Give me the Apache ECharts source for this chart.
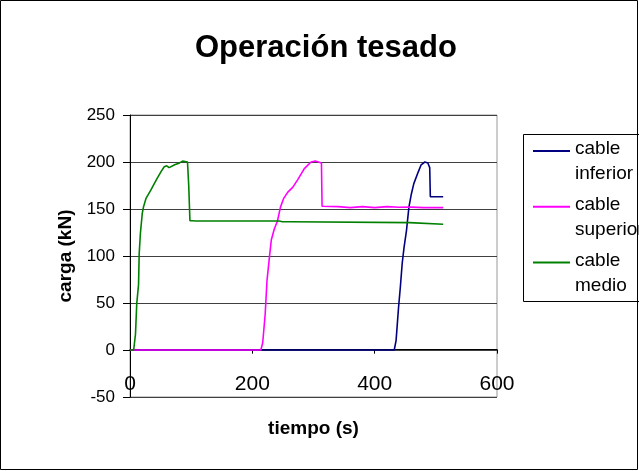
<!DOCTYPE html>
<html>
<head>
<meta charset="utf-8">
<script src="https://cdn.jsdelivr.net/npm/echarts@6/dist/echarts.min.js"></script>
<style>
html,body{margin:0;padding:0;background:#fff;}
#chart{width:639px;height:471px;}
</style>
</head>
<body>
<div id="chart"></div>
<script>
// ---- data ----
var seriesNames = ['cable\ninferior', 'cable\nsuperior', 'cable\nmedio'];
var xTicks = [0, 200, 400, 600];
var yTicks = [-50, 0, 50, 100, 150, 200, 250];

var tInferior = [0, 432, 435, 439, 442, 445, 448, 452, 456, 460, 464, 471, 476, 482, 487, 490, 491, 512];
var vInferior = [0, 0, 10, 45, 67, 92, 109, 127, 152, 166, 177, 189, 197, 200, 199, 194, 163, 163];

var tSuperior = [0, 214, 217, 221, 224, 228, 231, 236, 241, 246, 251, 258, 266, 274, 285, 296, 303, 313, 314, 340, 360, 380, 400, 420, 440, 460, 480, 512];
var vSuperior = [0, 0, 8, 38, 74, 99, 117, 129, 137, 152, 161, 168, 173, 181, 193, 200, 201, 199, 153, 152.5, 151.5, 152.5, 151.5, 152.5, 151.8, 152, 151.5, 151.5];

var tMedio = [0, 6, 9, 11, 14, 15, 17, 20, 22, 26, 34, 43, 51, 56, 60, 64, 73, 81, 86, 94, 95, 96, 98, 103, 105, 107, 244, 246, 249, 250, 262, 263, 457, 459, 512];
var vMedio = [0, 0, 17, 49, 70, 102, 124, 145, 152, 161, 170, 181, 190, 195, 196, 194, 197, 199, 201, 200, 200, 175, 137.5, 137.5, 139, 137.3, 137.3, 135.5, 136.5, 135.5, 136.5, 135.5, 135.5, 133.7, 133.7];

function pairs(t, v) { return t.map(function (x, i) { return [x, v[i]]; }); }

var FONT = "'Liberation Sans', Arial, sans-serif";
var colors = ['#000080', '#FF00FF', '#008000'];
var dataSets = [pairs(tInferior, vInferior), pairs(tSuperior, vSuperior), pairs(tMedio, vMedio)];

var chart = echarts.init(document.getElementById('chart'), null, {renderer: 'canvas'});
var option = {
  animation: false,
  backgroundColor: '#fff',
  textStyle: {fontFamily: FONT, color: '#000'},
  title: {
    text: 'Operación tesado',
    left: 195,
    top: 33,
    textStyle: {fontFamily: FONT, fontSize: 31, fontWeight: 'bold', color: '#000'},
    padding: 0
  },
  grid: {
    left: 130, right: 142, top: 115, bottom: 74,
    containLabel: false,
    outerBoundsMode: 'none',
    show: true, borderColor: '#999', borderWidth: 1, backgroundColor: 'transparent'
  },
  legend: {
    orient: 'vertical',
    left: 533,
    top: 121,
    padding: 0,
    itemWidth: 37,
    itemHeight: 2,
    itemGap: -6.7,
    icon: 'rect',
    data: seriesNames,
    formatter: function (name) {
      var parts = name.split('\n');
      return '{e| }\n{a|' + parts[0] + '}\n{a|' + parts[1] + '}';
    },
    textStyle: {
      fontFamily: FONT, fontSize: 19, color: '#000',
      rich: {
        e: {fontSize: 10, lineHeight: 21},
        a: {fontFamily: FONT, fontSize: 19, color: '#000', lineHeight: 25}
      }
    }
  },
  xAxis: {
    type: 'value',
    min: xTicks[0], max: xTicks[xTicks.length - 1], interval: 200,
    name: 'tiempo (s)',
    nameLocation: 'middle',
    nameGap: 70,
    offset: -47.3,
    nameTextStyle: {fontFamily: FONT, fontSize: 19, fontWeight: 'bold', color: '#000'},
    axisLine: {onZero: false, lineStyle: {color: '#000', width: 1}},
    axisTick: {show: true, inside: false, length: 4, lineStyle: {color: '#000'}},
    axisLabel: {fontFamily: FONT, fontSize: 21, color: '#000', margin: 24},
    splitLine: {show: false}
  },
  yAxis: {
    type: 'value',
    min: yTicks[0], max: yTicks[yTicks.length - 1], interval: 50,
    name: 'carga (kN)',
    nameLocation: 'middle',
    nameGap: 54,
    nameRotate: 90,
    nameTextStyle: {fontFamily: FONT, fontSize: 19, fontWeight: 'bold', color: '#000'},
    axisLine: {show: true, onZero: false, lineStyle: {color: '#000', width: 1}},
    axisTick: {show: true, inside: false, length: 7, lineStyle: {color: '#000'}},
    axisLabel: {fontFamily: FONT, fontSize: 17, color: '#000', margin: 15},
    splitLine: {show: true, lineStyle: {color: '#404040', width: 1}}
  },
  series: seriesNames.map(function (n, i) {
    return {
      name: n,
      type: 'line',
      data: dataSets[i],
      showSymbol: false,
      symbol: 'none',
      color: colors[i],
      lineStyle: {color: colors[i], width: 1.6},
      z: 2 + i
    };
  }),
  graphic: [
    {type: 'rect', shape: {x: 0.5, y: 0.5, width: 637, height: 469}, style: {fill: null, stroke: '#000', lineWidth: 1}, silent: true, z: 100},
    {type: 'rect', shape: {x: 523.5, y: 134.5, width: 200, height: 167}, style: {fill: null, stroke: '#000', lineWidth: 1}, silent: true, z: 100}
  ]
};
chart.setOption(option);
</script>
</body>
</html>
